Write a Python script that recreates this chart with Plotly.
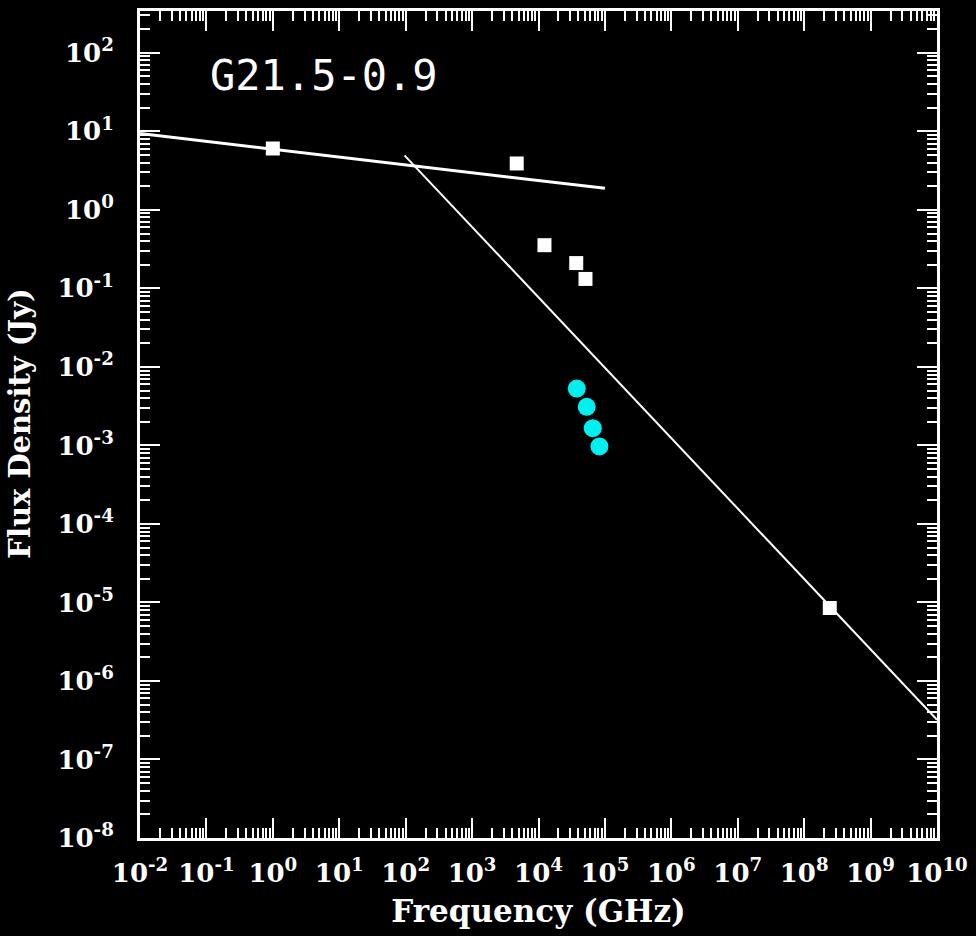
import plotly.graph_objects as go

# ---- data ----
# white squares: frequency (GHz), flux density (Jy)
sq_freq = [1.0, 4.7e3, 1.23e4, 3.7e4, 5.1e4, 2.43e8]
sq_flux = [6.05, 3.9, 0.355, 0.21, 0.132, 8.5e-6]

# cyan circles
cy_freq = [3.77e4, 5.32e4, 6.56e4, 8.26e4]
cy_flux = [5.3e-3, 3.1e-3, 1.66e-3, 9.7e-4]

# fitted power-law segments (endpoints)
line1_freq = [1e-2, 1e5]
line1_flux = [9.4, 1.88]
line2_freq = [96.0, 1e10]
line2_flux = [4.95, 3.2e-7]

x_tick_exp = list(range(-2, 11))
y_tick_exp = list(range(-8, 3))

title_text = "G21.5-0.9"
x_title = "Frequency (GHz)"
y_title = "Flux Density (Jy)"

# ---- figure ----
L, R, T, B = 140, 38, 8, 98
W, H = 976, 936
pw = W - L - R
ph = H - T - B

fig = go.Figure()
fig.add_trace(go.Scatter(x=line1_freq, y=line1_flux, mode="lines",
                         line=dict(color="white", width=3), showlegend=False))
fig.add_trace(go.Scatter(x=line2_freq, y=line2_flux, mode="lines",
                         line=dict(color="white", width=2), showlegend=False))
fig.add_trace(go.Scatter(x=sq_freq, y=sq_flux, mode="markers",
                         marker=dict(symbol="square", size=14, color="white",
                                     line=dict(width=0)), showlegend=False))
fig.add_trace(go.Scatter(x=cy_freq, y=cy_flux, mode="markers",
                         marker=dict(symbol="circle", size=18, color="#00F0F0",
                                     line=dict(width=0)), showlegend=False))

tickfont = dict(family="DejaVu Serif", size=26, color="white", weight="bold")

fig.update_xaxes(
    type="log", range=[-2, 10],
    tickvals=[10.0 ** e for e in x_tick_exp],
    ticktext=["10<sup>%d</sup>" % e for e in x_tick_exp],
    ticks="inside", ticklen=20, tickwidth=2, tickcolor="white",
    minor=dict(ticks="inside", ticklen=10, tickwidth=2, tickcolor="white",
               dtick="D1", showgrid=False),
    showline=True, linecolor="white", linewidth=3, mirror="allticks",
    showgrid=False, zeroline=False,
    tickfont=tickfont, ticklabelstandoff=10,
    title=dict(text=x_title, font=dict(family="DejaVu Serif", size=31,
                                       color="white", weight="bold"),
               standoff=14),
)
fig.update_yaxes(
    type="log", range=[-8, 2.533],
    tickvals=[10.0 ** e for e in y_tick_exp],
    ticktext=["10<sup>%d</sup>" % e for e in y_tick_exp],
    ticks="inside", ticklen=20, tickwidth=2, tickcolor="white",
    minor=dict(ticks="inside", ticklen=10, tickwidth=2, tickcolor="white",
               dtick="D1", showgrid=False),
    showline=True, linecolor="white", linewidth=3, mirror="allticks",
    showgrid=False, zeroline=False,
    tickfont=tickfont, ticklabelstandoff=18,
)

fig.add_annotation(
    text=title_text, xref="paper", yref="paper",
    x=(208 - L) / pw, y=(838 - 73) / ph, xanchor="left", yanchor="middle",
    showarrow=False,
    font=dict(family="DejaVu Sans Mono", size=42, color="white"),
)
fig.add_annotation(
    text=y_title, xref="paper", yref="paper",
    x=(19 - L) / pw, y=(838 - 422) / ph, xanchor="center", yanchor="middle",
    textangle=-90, showarrow=False,
    font=dict(family="DejaVu Serif", size=29, color="white", weight="bold"),
)

fig.update_layout(
    width=W, height=H,
    margin=dict(l=L, r=R, t=T, b=B, pad=0),
    paper_bgcolor="black", plot_bgcolor="black",
    showlegend=False,
)

fig.write_html("out.html")
